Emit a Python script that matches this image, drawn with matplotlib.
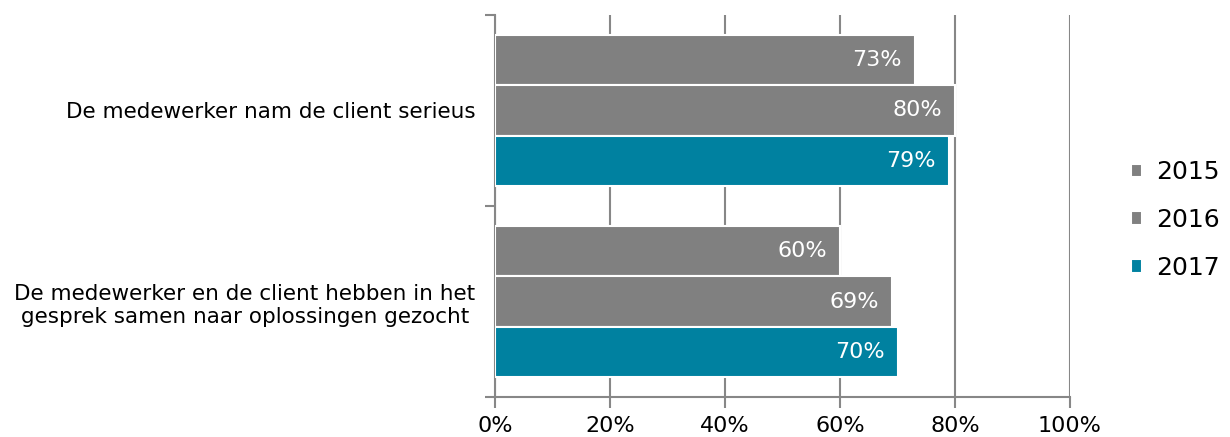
import matplotlib
matplotlib.use("Agg")
import matplotlib.pyplot as plt
import numpy as np

categories = ["De medewerker nam de client serieus",
              "De medewerker en de client hebben in het\ngesprek samen naar oplossingen gezocht"]
series = ["2015", "2016", "2017"]
values = {
    "2015": [73, 60],
    "2016": [80, 69],
    "2017": [79, 70],
}
colors = {"2015": "#808080", "2016": "#808080", "2017": "#0081A0"}
xticks = [0, 20, 40, 60, 80, 100]
xticklabels = ["0%", "20%", "40%", "60%", "80%", "100%"]

plt.rcParams['font.family'] = ['DejaVu Sans']
fig = plt.figure(figsize=(12.3, 4.37), dpi=100)
ax = fig.add_axes([495/1230, 1 - 397/437, (1070-495)/1230, (397-15)/437])

centers = np.array([0.5 + i for i in range(len(categories))])
h = 0.262
grid_c = "#878787"
for j, s in enumerate(series):
    ys = centers + (j - 1) * h
    ax.barh(ys, values[s], height=h, color=colors[s], edgecolor="white",
            linewidth=1.5, label=s, zorder=3)
    for y, v in zip(ys, values[s]):
        ax.text(v - 2.3, y, f"{v}%", ha="right", va="center", color="white",
                fontsize=16, zorder=4)

ax.set_xlim(0, 100)
ax.set_ylim(len(categories), 0)
ax.set_xticks(xticks)
ax.set_xticklabels(xticklabels, fontsize=16)
ax.set_yticks(centers)
ax.set_yticklabels(categories, fontsize=15.5, multialignment="center")
ax.tick_params(axis="y", length=0, pad=14)
ax.set_yticks([0, 1, 2], minor=True)
ax.tick_params(axis="y", which="minor", length=7, width=1.5, color=grid_c, direction="out")
ax.tick_params(axis="x", length=8, width=1.5, color=grid_c, pad=6)

ax.xaxis.grid(True, color=grid_c, linewidth=1.5, zorder=0)
ax.set_axisbelow(True)
for sp in ["top", "right"]:
    ax.spines[sp].set_visible(False)
for sp in ["left", "bottom"]:
    ax.spines[sp].set_color(grid_c)
    ax.spines[sp].set_linewidth(1.5)

fig.legend(loc="center left", bbox_to_anchor=(1131/1230, 1 - 220/437),
           frameon=False, fontsize=18, handlelength=0.45, handleheight=0.45,
           handletextpad=0.55, labelspacing=0.95, borderpad=0, borderaxespad=0)

fig.savefig("out.png", dpi=100)
